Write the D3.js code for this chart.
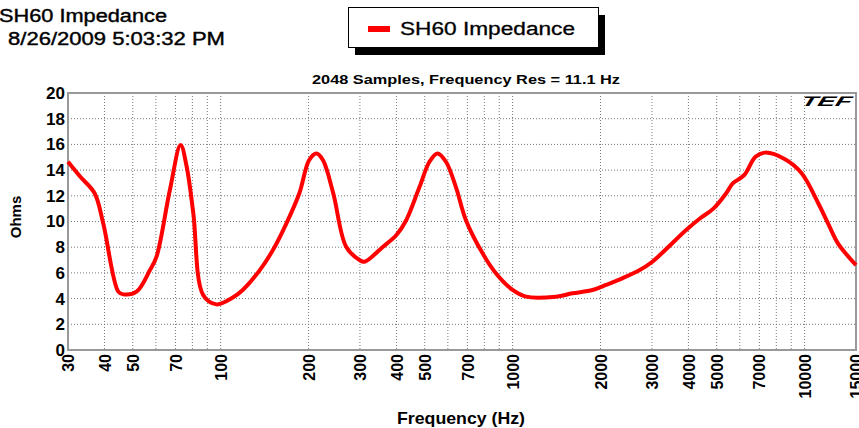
<!DOCTYPE html>
<html>
<head>
<meta charset="utf-8">
<script src="https://cdn.jsdelivr.net/npm/d3@7"></script>
<style>
  body { margin: 0; background: #fff; }
  svg { display: block; font-family: "Liberation Sans", Arial, sans-serif; }
</style>
</head>
<body>
<svg id="canvas"></svg>
<script>
let freqs = [30, 33, 37, 39.6, 44.6, 46.4, 51.5, 57.2, 60.3, 67, 72.9, 76.5, 80.6, 87.1, 96.7, 109, 119, 136, 151, 168, 186, 201, 213, 224, 243, 269, 299, 311, 360, 400, 432, 480, 519, 553, 591, 639, 692, 789, 876, 1000, 1111, 1407, 1602, 1878, 2086, 2375, 2715, 3010, 3930, 4390, 4870, 5390, 5674, 6210, 6790, 7340, 8570, 9770, 11136, 12030, 13007, 15000];
let ohms = [14.65, 13.5, 12.2, 9.86, 4.54, 4.33, 4.54, 6.2, 7.26, 12.45, 15.95, 14.26, 10.64, 4.28, 3.55, 4.02, 4.67, 6.2, 7.78, 9.86, 12.2, 14.79, 15.3, 14.79, 12.2, 8.04, 7.0, 6.87, 8.04, 8.95, 10.1, 12.7, 14.65, 15.3, 14.65, 12.7, 10.1, 7.52, 5.97, 4.67, 4.15, 4.15, 4.41, 4.67, 5.06, 5.58, 6.2, 6.87, 9.34, 10.25, 11.0, 12.2, 12.97, 13.6, 15.04, 15.36, 14.84, 13.75, 11.42, 9.86, 8.3, 6.6];

let xTickLabels = [30, 40, 50, 70, 100, 200, 300, 400, 500, 700, 1000, 2000, 3000, 4000, 5000, 7000, 10000, 15000];
let xGridLines = [40, 50, 60, 70, 80, 90, 100, 200, 300, 400, 500, 600, 700, 800, 900, 1000, 2000, 3000, 4000, 5000, 6000, 7000, 8000, 9000, 10000];
let yTicks = [0, 2, 4, 6, 8, 10, 12, 14, 16, 18, 20];

let title = "SH60 Impedance";
let dateText = "8/26/2009 5:03:32 PM";
let seriesName = "SH60 Impedance";
let subtitle = "2048 Samples, Frequency Res = 11.1 Hz";

let width = 859;
let height = 428;
let plotLeft = 68, plotRight = 856, plotTop = 93, plotBottom = 350;

let canvas = d3.select("#canvas").attr("width", width).attr("height", height);

let xScale = d3.scaleLog().domain([30, 15000]).range([plotLeft, plotRight]);
let yScale = d3.scaleLinear().domain([0, 20]).range([plotBottom, plotTop]);

// header text
canvas.append("text").attr("x", -1).attr("y", 22)
  .attr("font-size", 18).attr("textLength", 168).attr("lengthAdjust", "spacingAndGlyphs")
  .attr("stroke", "#000").attr("stroke-width", 0.4)
  .text(title);
canvas.append("text").attr("x", 8).attr("y", 45)
  .attr("font-size", 18).attr("textLength", 217).attr("lengthAdjust", "spacingAndGlyphs")
  .attr("stroke", "#000").attr("stroke-width", 0.4)
  .text(dateText);

// legend box with shadow
canvas.append("rect").attr("x", 355).attr("y", 15).attr("width", 250).attr("height", 40).attr("fill", "#000");
canvas.append("rect").attr("x", 348.5).attr("y", 7.5).attr("width", 250).attr("height", 40)
  .attr("fill", "#fff").attr("stroke", "#000").attr("stroke-width", 1);
canvas.append("line").attr("x1", 368).attr("x2", 390).attr("y1", 29).attr("y2", 29)
  .attr("stroke", "#ff0000").attr("stroke-width", 6);
canvas.append("text").attr("x", 400).attr("y", 35)
  .attr("font-size", 18).attr("textLength", 175).attr("lengthAdjust", "spacingAndGlyphs")
  .attr("stroke", "#000").attr("stroke-width", 0.3)
  .text(seriesName);

canvas.append("text").attr("x", 312).attr("y", 84)
  .attr("font-size", 13).attr("font-weight", "bold")
  .attr("textLength", 308).attr("lengthAdjust", "spacingAndGlyphs")
  .text(subtitle);

// grid
canvas.append("g").selectAll("line").data(xGridLines).enter().append("line")
  .attr("x1", (d) => xScale(d)).attr("x2", (d) => xScale(d))
  .attr("y1", plotTop).attr("y2", plotBottom)
  .attr("stroke", "#777").attr("stroke-dasharray", "1,2");
canvas.append("g").selectAll("line").data(yTicks.slice(1, -1)).enter().append("line")
  .attr("x1", plotLeft).attr("x2", plotRight)
  .attr("y1", (d) => yScale(d)).attr("y2", (d) => yScale(d))
  .attr("stroke", "#777").attr("stroke-dasharray", "1,2");

// frame
canvas.append("rect").attr("x", plotLeft).attr("y", plotTop)
  .attr("width", plotRight - plotLeft).attr("height", plotBottom - plotTop)
  .attr("fill", "none").attr("stroke", "#999").attr("stroke-width", 2);

// axes
let yAxis = d3.axisLeft(yScale).tickValues(yTicks).tickSize(0).tickPadding(3);
canvas.append("g").attr("transform", "translate(" + plotLeft + ",0)").call(yAxis)
  .call((g) => g.select(".domain").remove())
  .selectAll("text")
  .attr("font-family", "Liberation Sans, Arial, sans-serif")
  .attr("font-size", 17).attr("font-weight", "bold").attr("fill", "#000");

let xAxis = d3.axisBottom(xScale).tickValues(xTickLabels).tickFormat(d3.format("d")).tickSize(0);
canvas.append("g").attr("transform", "translate(0," + plotBottom + ")").call(xAxis)
  .call((g) => g.select(".domain").remove())
  .selectAll("text")
  .attr("font-family", "Liberation Sans, Arial, sans-serif")
  .attr("font-size", 16).attr("font-weight", "bold").attr("fill", "#000")
  .attr("text-anchor", "end")
  .attr("transform", "rotate(-90)")
  .attr("x", -4).attr("y", 0).attr("dy", "0.35em");

canvas.append("text").attr("transform", "translate(21,217) rotate(-90)")
  .attr("text-anchor", "middle").attr("font-size", 15).attr("font-weight", "bold")
  .text("Ohms");
canvas.append("text").attr("x", 397).attr("y", 424)
  .attr("font-size", 17).attr("font-weight", "bold")
  .attr("textLength", 128).attr("lengthAdjust", "spacingAndGlyphs")
  .text("Frequency (Hz)");

// logo
canvas.append("text").attr("x", 802).attr("y", 106)
  .attr("font-size", 14).attr("font-weight", "bold").attr("font-style", "italic")
  .attr("textLength", 50).attr("lengthAdjust", "spacingAndGlyphs")
  .attr("transform", "skewX(-15) translate(27,0)")
  .text("TEF");

// impedance curve
let line = d3.line()
  .x((d, i) => xScale(freqs[i]))
  .y((d) => yScale(d))
  .curve(d3.curveCatmullRom.alpha(0.5));

canvas.append("path").datum(ohms)
  .attr("d", line)
  .attr("fill", "none")
  .attr("stroke", "#ff0000")
  .attr("stroke-width", 4)
  .attr("stroke-linejoin", "round");
</script>
</body>
</html>
